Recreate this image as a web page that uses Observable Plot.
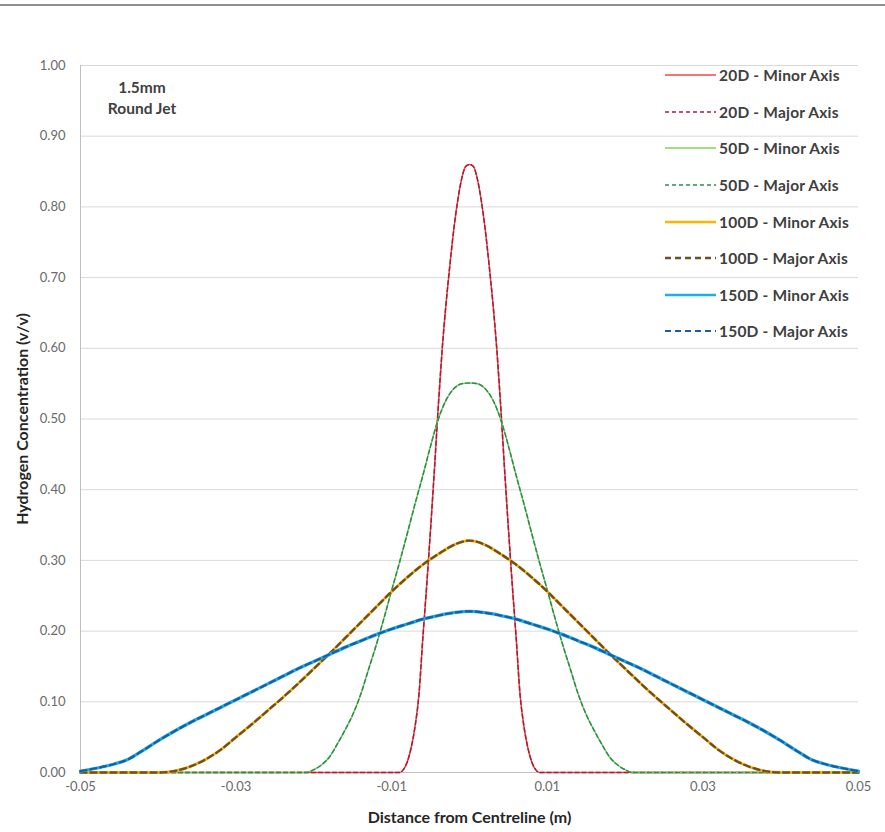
<!DOCTYPE html>
<html><head><meta charset="utf-8">
<script src="https://cdn.jsdelivr.net/npm/d3@7"></script>
<script src="https://cdn.jsdelivr.net/npm/@observablehq/plot@0.6"></script>
<style>
body{margin:0;background:#fff;font-family:Lato,"Open Sans",sans-serif;}
#wrap{position:relative;width:885px;height:832px;overflow:hidden;background:#fff;}
#topline{position:absolute;left:0;top:4px;width:885px;height:2px;background:#8f8f8f;}
#legend{position:absolute;left:664px;top:57px;}
.item{display:flex;align-items:center;height:36.6px;font-weight:700;font-size:15.5px;letter-spacing:0.2px;color:#404040;white-space:nowrap;}
.item svg{margin-right:2px;}
#note{position:absolute;left:92px;top:77px;width:100px;text-align:center;font-weight:700;font-size:15.5px;color:#404040;line-height:21px;}
</style></head>
<body><div id="wrap"><div id="topline"></div><div id="chart"></div><div id="legend"></div><div id="note">1.5mm<br>Round Jet</div></div>
<script>
// ---- data (x in metres, concentration v/v) ----
const x20 = [-0.05,-0.01,-0.009,-0.0085,-0.008,-0.0075,-0.007,-0.0065,-0.006,-0.0055,-0.005,-0.0045,-0.004,-0.0035,-0.003,-0.0025,-0.002,-0.0015,-0.001,-0.0005,0,0.0005,0.001,0.0015,0.002,0.0025,0.003,0.0035,0.004,0.0045,0.005,0.0055,0.006,0.0065,0.007,0.0075,0.008,0.0085,0.009,0.01,0.05];
const minor20 = [0,0,0,0.004,0.015,0.035,0.065,0.11,0.19,0.265,0.345,0.43,0.52,0.6,0.665,0.72,0.77,0.81,0.84,0.857,0.86,0.857,0.84,0.81,0.77,0.72,0.665,0.6,0.52,0.43,0.345,0.265,0.19,0.11,0.065,0.035,0.015,0.004,0,0,0];
const major20 = [0,0,0,0.004,0.015,0.035,0.065,0.11,0.19,0.265,0.345,0.43,0.52,0.6,0.665,0.72,0.77,0.81,0.84,0.857,0.86,0.857,0.84,0.81,0.77,0.72,0.665,0.6,0.52,0.43,0.345,0.265,0.19,0.11,0.065,0.035,0.015,0.004,0,0,0];

const x50 = [-0.05,-0.022,-0.021,-0.02,-0.019,-0.018,-0.017,-0.016,-0.015,-0.014,-0.013,-0.012,-0.011,-0.01,-0.009,-0.008,-0.007,-0.006,-0.005,-0.004,-0.003,-0.002,-0.001,0,0.001,0.002,0.003,0.004,0.005,0.006,0.007,0.008,0.009,0.01,0.011,0.012,0.013,0.014,0.015,0.016,0.017,0.018,0.019,0.02,0.021,0.022,0.05];
const minor50 = [0,0,0,0.004,0.011,0.022,0.04,0.06,0.082,0.11,0.145,0.18,0.218,0.258,0.297,0.338,0.38,0.42,0.462,0.5,0.527,0.543,0.55,0.551,0.55,0.543,0.527,0.5,0.462,0.42,0.38,0.338,0.297,0.258,0.218,0.18,0.145,0.11,0.082,0.06,0.04,0.022,0.011,0.004,0,0,0];
const major50 = [0,0,0,0.004,0.011,0.022,0.04,0.06,0.082,0.11,0.145,0.18,0.218,0.258,0.297,0.338,0.38,0.42,0.462,0.5,0.527,0.543,0.55,0.551,0.55,0.543,0.527,0.5,0.462,0.42,0.38,0.338,0.297,0.258,0.218,0.18,0.145,0.11,0.082,0.06,0.04,0.022,0.011,0.004,0,0,0];

const x100 = [-0.05,-0.04,-0.038,-0.036,-0.034,-0.032,-0.03,-0.028,-0.026,-0.024,-0.022,-0.02,-0.018,-0.016,-0.014,-0.012,-0.01,-0.008,-0.006,-0.004,-0.002,0,0.002,0.004,0.006,0.008,0.01,0.012,0.014,0.016,0.018,0.02,0.022,0.024,0.026,0.028,0.03,0.032,0.034,0.036,0.038,0.04,0.05];
const minor100 = [0,0,0.002,0.008,0.018,0.032,0.05,0.068,0.087,0.106,0.126,0.147,0.168,0.19,0.212,0.234,0.256,0.276,0.294,0.309,0.322,0.328,0.322,0.309,0.294,0.276,0.256,0.234,0.212,0.19,0.168,0.147,0.126,0.106,0.087,0.068,0.05,0.032,0.018,0.008,0.002,0,0];
const major100 = [0,0,0.002,0.008,0.018,0.032,0.05,0.068,0.087,0.106,0.126,0.147,0.168,0.19,0.212,0.234,0.256,0.276,0.294,0.309,0.322,0.328,0.322,0.309,0.294,0.276,0.256,0.234,0.212,0.19,0.168,0.147,0.126,0.106,0.087,0.068,0.05,0.032,0.018,0.008,0.002,0,0];

const x150 = [-0.05,-0.048,-0.046,-0.044,-0.042,-0.04,-0.038,-0.036,-0.034,-0.032,-0.03,-0.028,-0.026,-0.024,-0.022,-0.02,-0.018,-0.016,-0.014,-0.012,-0.01,-0.008,-0.006,-0.004,-0.002,0,0.002,0.004,0.006,0.008,0.01,0.012,0.014,0.016,0.018,0.02,0.022,0.024,0.026,0.028,0.03,0.032,0.034,0.036,0.038,0.04,0.042,0.044,0.046,0.048,0.05];
const minor150 = [0.002,0.006,0.011,0.018,0.031,0.045,0.058,0.07,0.081,0.092,0.103,0.114,0.125,0.136,0.147,0.157,0.167,0.177,0.186,0.195,0.203,0.21,0.217,0.222,0.226,0.228,0.226,0.222,0.217,0.21,0.203,0.195,0.186,0.177,0.167,0.157,0.147,0.136,0.125,0.114,0.103,0.092,0.081,0.07,0.058,0.045,0.031,0.018,0.011,0.006,0.002];
const major150 = [0.002,0.006,0.011,0.018,0.031,0.045,0.058,0.07,0.081,0.092,0.103,0.114,0.125,0.136,0.147,0.157,0.167,0.177,0.186,0.195,0.203,0.21,0.217,0.222,0.226,0.228,0.226,0.222,0.217,0.21,0.203,0.195,0.186,0.177,0.167,0.157,0.147,0.136,0.125,0.114,0.103,0.092,0.081,0.07,0.058,0.045,0.031,0.018,0.011,0.006,0.002];

const seriesNames = ["20D - Minor Axis","20D - Major Axis","50D - Minor Axis","50D - Major Axis","100D - Minor Axis","100D - Major Axis","150D - Minor Axis","150D - Major Axis"];
const xTicks = [-0.05,-0.03,-0.01,0.01,0.03,0.05];
const yTicks = [0,0.1,0.2,0.3,0.4,0.5,0.6,0.7,0.8,0.9,1.0];

// ---- styles ----
const styles = [
  {stroke:"#ff4040", w:1.5, dash:null},
  {stroke:"#a3203a", w:1.5, dash:"4,3"},
  {stroke:"#7fd35a", w:1.5, dash:null},
  {stroke:"#2f8a55", w:1.5, dash:"4,3"},
  {stroke:"#ffb400", w:2.8, dash:null},
  {stroke:"#6e4f26", w:2.4, dash:"6,4"},
  {stroke:"#19aef0", w:3.3, dash:null},
  {stroke:"#1f5c9c", w:2.2, dash:"6,4"}
];
const xs = [x20,x20,x50,x50,x100,x100,x150,x150];
const ys = [minor20,major20,minor50,major50,minor100,major100,minor150,major150];

const fmt = d => d3.format(".2f")(d).replace("\u2212","-");
const marks = [
  Plot.gridY(yTicks.slice(1), {stroke:"#d9d9d9", strokeOpacity:1, strokeWidth:1}),
  Plot.ruleY([0], {stroke:"#bfbfbf", strokeWidth:1}),
  Plot.ruleX([-0.05], {stroke:"#bfbfbf", strokeWidth:1}),
  Plot.axisY(yTicks, {tickFormat:fmt, tickSize:0, tickPadding:15, fontSize:13, fill:"#6a6a6a",
    label:"Hydrogen Concentration (v/v)", labelAnchor:"center", labelArrow:"none", labelOffset:64}),
  Plot.axisX(xTicks, {tickFormat:fmt, tickSize:0, tickPadding:9, fontSize:13, fill:"#6a6a6a",
    label:"Distance from Centreline (m)", labelAnchor:"center", labelArrow:"none", labelOffset:50})
];
seriesNames.forEach((name,i)=>{
  const data = xs[i].map((x,j)=>({x, y: ys[i][j]}));
  const s = styles[i];
  marks.push(Plot.line(data, {x:"x", y:"y", stroke:s.stroke, strokeWidth:s.w, strokeDasharray:s.dash, curve:"monotone-x"}));
});

const chart = Plot.plot({
  width:885, height:832,
  marginLeft:80, marginRight:27, marginTop:65, marginBottom:60,
  style:{fontFamily:"Lato, 'Open Sans', sans-serif", background:"#fff"},
  x:{domain:[-0.05,0.05]},
  y:{domain:[0,1]},
  marks
});
document.getElementById("chart").appendChild(chart);
// bold axis titles
chart.querySelectorAll("g[aria-label='y-axis label'] text, g[aria-label='x-axis label'] text").forEach(t=>{
  t.setAttribute("font-weight","700"); t.setAttribute("font-size","16"); t.setAttribute("fill","#262626");
});

// legend
const lg = document.getElementById("legend");
seriesNames.forEach((name,i)=>{
  const s = styles[i];
  const d = document.createElement("div"); d.className="item";
  d.innerHTML = `<svg width="53" height="8"><line x1="1" x2="52" y1="4" y2="4" stroke="${s.stroke}" stroke-width="${Math.min(s.w,2.4)}" ${s.dash?`stroke-dasharray="${s.dash}"`:""}/></svg>${name}`;
  lg.appendChild(d);
});
</script></body></html>
